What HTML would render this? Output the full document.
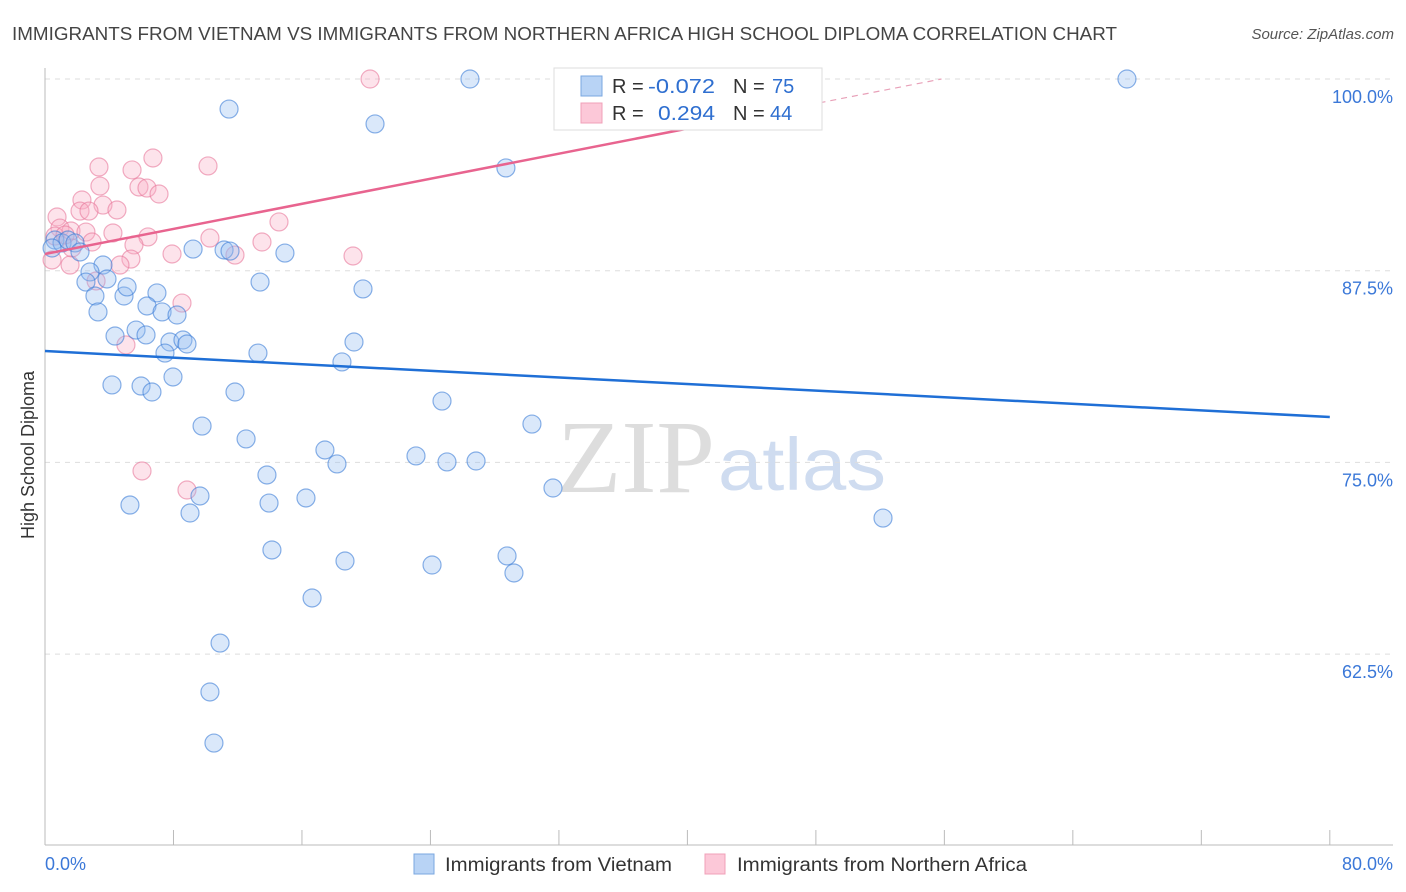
<!DOCTYPE html>
<html><head><meta charset="utf-8"><style>
body{margin:0;background:#fff;font-family:"Liberation Sans",sans-serif;}
#wrap{position:relative;width:1406px;height:892px;overflow:hidden;}
</style></head><body>
<div id="wrap">
<svg id="svg" width="1406" height="892" xmlns="http://www.w3.org/2000/svg">
<text x="12" y="40" font-size="18" fill="#444" textLength="1105" lengthAdjust="spacingAndGlyphs">IMMIGRANTS FROM VIETNAM VS IMMIGRANTS FROM NORTHERN AFRICA HIGH SCHOOL DIPLOMA CORRELATION CHART</text>
<text x="1394" y="39" font-size="15" fill="#555" font-style="italic" text-anchor="end">Source: ZipAtlas.com</text>
<text x="0" y="0" transform="translate(34,455) rotate(-90)" font-size="18" fill="#333" text-anchor="middle">High School Diploma</text>
<text x="557" y="492" font-size="104" fill="#ddd" textLength="158" lengthAdjust="spacingAndGlyphs" font-family="Liberation Serif,serif">ZIP</text>
<text x="718" y="490" font-size="74" fill="#cfdcf0" textLength="168" lengthAdjust="spacingAndGlyphs">atlas</text>
<g id="grid"></g><g id="axes"></g><g id="pts"></g><g id="lines"></g>
<g>
<rect x="554" y="68" width="268" height="62" fill="#fff" stroke="#ddd"/>
<rect x="581" y="76" width="21" height="20" fill="#b8d3f5" stroke="#7aa7e0"/>
<rect x="581" y="103" width="21" height="20" fill="#fcc8d8" stroke="#f0a0b8"/>
<text x="612" y="93" font-size="20" fill="#333">R =</text>
<text x="648" y="93" font-size="20" fill="#2f6fd0" textLength="67" lengthAdjust="spacingAndGlyphs">-0.072</text>
<text x="733" y="93" font-size="20" fill="#333">N =</text>
<text x="772" y="93" font-size="20" fill="#2f6fd0">75</text>
<text x="612" y="120" font-size="20" fill="#333">R =</text>
<text x="658" y="120" font-size="20" fill="#2f6fd0" textLength="57" lengthAdjust="spacingAndGlyphs">0.294</text>
<text x="733" y="120" font-size="20" fill="#333">N =</text>
<text x="770" y="120" font-size="20" fill="#2f6fd0">44</text>
</g>
<g>
<rect x="414" y="854" width="20" height="20" fill="#b8d3f5" stroke="#7aa7e0"/>
<text x="445" y="871" font-size="19" fill="#333" textLength="227" lengthAdjust="spacingAndGlyphs">Immigrants from Vietnam</text>
<rect x="705" y="854" width="20" height="20" fill="#fcc8d8" stroke="#f0a0b8"/>
<text x="737" y="871" font-size="19" fill="#333" textLength="290" lengthAdjust="spacingAndGlyphs">Immigrants from Northern Africa</text>
</g>
</svg>
</div>
<script>
const blueX=[26.46,43.09,67.37,11.46,20.55,28.70,0.62,1.06,1.43,1.87,2.18,0.44,9.22,11.15,11.52,14.94,3.61,2.80,2.55,3.86,13.39,19.80,6.97,3.11,4.92,5.11,6.35,3.30,7.29,8.22,4.36,5.67,6.29,7.78,8.59,8.84,7.47,13.26,19.24,18.49,4.17,5.98,6.66,7.97,11.83,24.72,9.78,30.32,12.52,17.43,18.18,23.10,25.03,26.84,31.63,13.82,9.65,16.25,5.29,13.95,9.03,52.18,14.13,28.77,18.68,24.10,29.20,16.63,10.90,10.27,10.52];
const blueY=[100,100,100,98.04,97.07,94.20,89.50,89.31,89.50,89.31,88.72,88.98,88.91,88.85,88.78,88.65,87.87,87.42,86.76,86.96,86.76,86.31,86.05,85.85,85.85,86.44,85.20,84.81,84.81,84.61,83.24,83.63,83.31,82.85,82.98,82.72,82.13,82.13,82.85,81.55,80.05,79.98,79.59,80.57,79.59,79.00,77.37,77.50,76.53,75.81,74.90,75.42,75.03,75.09,73.33,74.18,72.81,72.68,72.22,72.35,71.70,71.37,69.29,68.90,68.57,68.31,67.79,66.16,63.22,60.03,56.70];
const pinkX=[20.24,39.54,6.72,3.36,5.42,10.15,3.42,5.85,6.35,7.10,2.30,3.61,2.18,2.74,4.48,0.75,14.57,0.93,1.62,2.55,4.23,6.41,10.27,13.51,2.93,5.54,1.68,7.91,11.83,19.18,5.35,4.67,1.56,0.44,3.18,8.53,5.04,6.04,8.84,0.62,1.25];
const pinkY=[100,100,94.85,94.26,94.07,94.33,93.02,92.96,92.89,92.50,92.11,91.78,91.39,91.39,91.46,91.00,90.68,90.28,90.09,90.02,89.96,89.70,89.63,89.37,89.37,89.18,88.98,88.59,88.52,88.46,88.26,87.87,87.87,88.20,86.83,85.39,82.66,74.44,73.20,89.76,89.83];
const yTicks=[100,87.5,75,62.5];
const yTickLabels=["100.0%","87.5%","75.0%","62.5%"];
const xTicks=[0,8,16,24,32,40,48,56,64,72,80];
const blueTrend=[82.26,77.96];
const pinkTrend=[88.59,0.2044];
const NS="http://www.w3.org/2000/svg";
function X(v){return 45+v*16.06;}
function Y(v){return 79+(100-v)*15.336;}
function mk(tag,attrs,parent){const e=document.createElementNS(NS,tag);for(const k in attrs)e.setAttribute(k,attrs[k]);document.getElementById(parent).appendChild(e);return e;}
yTicks.forEach((t,i)=>{
 const l=mk('line',{x1:45,x2:1393,y1:Y(t),y2:Y(t),stroke:'#ddd','stroke-dasharray':'5,5'},'grid');
 
 
 const tx=mk('text',{x:1393,y:Y(t)+24,'font-size':18,fill:'#3b78d8','text-anchor':'end'},'grid');
 tx.textContent=yTickLabels[i];
 
 
});
mk('line',{x1:45,x2:45,y1:68,y2:845,stroke:'#bbb'},'axes');
mk('line',{x1:45,x2:1393,y1:845,y2:845,stroke:'#bbb'},'axes');
xTicks.forEach(t=>{const l=mk('line',{x1:X(t),x2:X(t),y1:830,y2:845,stroke:'#bbb'},'axes');
 
 });
let a=mk('text',{x:45,y:870,'font-size':18,fill:'#3b78d8'},'axes');a.textContent='0.0%';


let b=mk('text',{x:1393,y:870,'font-size':18,fill:'#3b78d8','text-anchor':'end'},'axes');b.textContent='80.0%';


pinkX.forEach((v,i)=>{const c=mk('circle',{cx:X(v),cy:Y(pinkY[i]),r:9,fill:'rgba(248,175,198,0.35)',stroke:'rgba(232,120,155,0.6)','stroke-width':1.2},'pts');
 
 });
blueX.forEach((v,i)=>{const c=mk('circle',{cx:X(v),cy:Y(blueY[i]),r:9,fill:'rgba(150,190,240,0.35)',stroke:'rgba(60,125,215,0.6)','stroke-width':1.2},'pts');
 
 });
const bl=mk('line',{x1:X(0),y1:Y(blueTrend[0]),x2:X(80),y2:Y(blueTrend[1]),stroke:'#1f6fd6','stroke-width':2.5},'lines');


const px1=40.16, px2=(100-pinkTrend[0])/pinkTrend[1];
const pl=mk('line',{x1:X(0),y1:Y(pinkTrend[0]),x2:X(px1),y2:Y(pinkTrend[0]+pinkTrend[1]*px1),stroke:'#e8648f','stroke-width':2.5},'lines');


const pd=mk('line',{x1:X(px1),y1:Y(pinkTrend[0]+pinkTrend[1]*px1),x2:X(px2),y2:Y(100),stroke:'#e8a0b8','stroke-width':1.2,'stroke-dasharray':'6,5'},'lines');


</script>
</body></html>
